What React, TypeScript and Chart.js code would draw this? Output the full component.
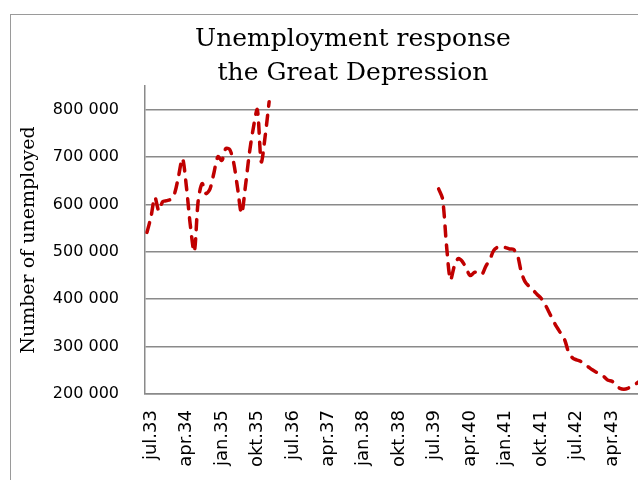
import { useEffect, useRef } from 'react';
import { Chart, registerables } from 'chart.js';

Chart.register(...registerables);

// Month names (Norwegian) used for the category labels
const MONTHS = ['jan', 'feb', 'mar', 'apr', 'mai', 'jun', 'jul', 'aug', 'sep', 'okt', 'nov', 'des'];
const START_YEAR = 33; // 1933
const START_MONTH = 6; // jul
const MONTH_COUNT = 136; // jul.33 .. okt.44
const LABEL_EVERY = 9;

const CATEGORIES: string[] = [];
for (let i = 0; i < MONTH_COUNT; i++) {
  const k = START_MONTH + i;
  CATEGORIES.push(`${MONTHS[k % 12]}.${START_YEAR + Math.floor(k / 12)}`);
}

// Monthly unemployed, jul.33 .. feb.36
const SERIES_1933_1936 = [
  541000, 573000, 615000, 587000, 606000, 608000, 611000, 623000, 659000, 697000,
  638000, 556000, 500000, 608000, 644000, 623000, 633000, 667000, 701000, 693000,
  718000, 716000, 688000, 634000, 581000, 640000, 709000, 762000, 800000, 690000,
  745000, 817000,
];
const SERIES_1_START = 'jul.33';

// Monthly unemployed, sep.39 .. jan.44
const SERIES_1939_1944 = [
  633000, 612000, 514000, 441000, 470000, 486000, 480000, 465000, 450000, 456000,
  458000, 453000, 470000, 484000, 503000, 510000, 511000, 509000, 506000, 505000,
  493000, 457000, 436000, 427000, 419000, 410000, 402000, 389000, 373000, 356000,
  341000, 328000, 314000, 288000, 276000, 272000, 269000, 263000, 257000, 251000,
  246000, 242000, 236000, 229000, 227000, 218000, 212000, 210000, 212000, 217000,
  221000, 227000, 232000,
];
const SERIES_2_START = 'sep.39';

const Y_MIN = 200000;
const Y_MAX = 850000;
const Y_TICKS = [200000, 300000, 400000, 500000, 600000, 700000, 800000];

function buildSeries(): (number | null)[] {
  const out: (number | null)[] = CATEGORIES.map(() => null);
  const s1 = CATEGORIES.indexOf(SERIES_1_START);
  SERIES_1933_1936.forEach((v, i) => { out[s1 + i] = v; });
  const s2 = CATEGORIES.indexOf(SERIES_2_START);
  SERIES_1939_1944.forEach((v, i) => { if (s2 + i < out.length) out[s2 + i] = v; });
  return out;
}

function fmt(v: number): string {
  const th = Math.round(v / 1000);
  return `${th} 000`;
}

export default function App() {
  const ref = useRef<HTMLCanvasElement | null>(null);

  useEffect(() => {
    if (!ref.current) return;
    const chart = new Chart(ref.current, {
      type: 'line',
      data: {
        labels: CATEGORIES,
        datasets: [
          {
            label: 'Number of unemployed',
            data: buildSeries(),
            borderColor: '#C00000',
            backgroundColor: '#C00000',
            borderWidth: 3.5,
            borderDash: [10, 9],
            borderCapStyle: 'round',
            pointRadius: 0,
            pointHoverRadius: 0,
            tension: 0.3,
            spanGaps: false,
            fill: false,
          },
        ],
      },
      options: {
        responsive: false,
        animation: false,
        layout: { padding: 0 },
        plugins: {
          legend: { display: false },
          tooltip: { enabled: false },
          title: {
            display: true,
            text: ['Unemployment response', 'the Great Depression'],
            color: '#000',
            font: { family: 'DejaVu Serif', size: 25, weight: 'normal', lineHeight: 1.38 },
            padding: { top: 7, bottom: -5 },
          },
        },
        scales: {
          x: {
            type: 'category',
            offset: true,
            grid: { display: false, drawTicks: false },
            border: { display: true, color: '#8a8a8a', width: 1.5 },
            ticks: {
              autoSkip: false,
              minRotation: 90,
              maxRotation: 90,
              padding: 16,
              labelOffset: 4,
              color: '#000',
              font: { family: 'DejaVu Sans', size: 18 },
              callback: (_v: any, i: number) => (i % LABEL_EVERY === 0 ? CATEGORIES[i] : ''),
            },
            afterFit: (s: any) => {
              s.height = 111;
              s.paddingLeft = 0;
              s.paddingRight = 14;
            },
          },
          y: {
            min: Y_MIN,
            max: Y_MAX,
            ticks: {
              padding: 26,
              color: '#000',
              font: { family: 'DejaVu Sans', size: 16 },
              callback: (v: any) => fmt(Number(v)),
            },
            afterBuildTicks: (s: any) => {
              s.ticks = Y_TICKS.map((v) => ({ value: v }));
            },
            grid: { color: '#8a8a8a', lineWidth: 1.5, drawTicks: false },
            border: { display: true, color: '#8a8a8a', width: 1.5 },
            title: {
              display: true,
              text: 'Number of unemployed',
              color: '#000',
              font: { family: 'DejaVu Serif', size: 19, weight: 'normal' },
              padding: { top: 7, bottom: 0 },
            },
            afterFit: (s: any) => { s.width = 134; },
          },
        },
      },
    } as any);
    return () => chart.destroy();
  }, []);

  return (
    <div style={{ position: 'fixed', left: 0, top: 0, width: 638, height: 480, overflow: 'hidden', background: '#fff' }}>
      <div style={{ position: 'absolute', left: 10, top: 14, width: 684, height: 490, border: '1px solid #9a9a9a', background: '#fff' }}>
        <canvas ref={ref} width={684} height={490} style={{ display: 'block', width: 684, height: 490 }} />
      </div>
    </div>
  );
}
